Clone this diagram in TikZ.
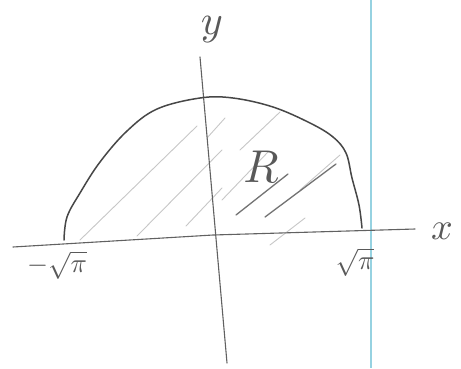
\documentclass[tikz,border=0pt]{standalone}
\begin{document}
\begin{tikzpicture}[x=1pt,y=-1pt,
  axisline/.style={line width=1.1pt, draw=black!62, line cap=round},
  curveline/.style={line width=1.5pt, draw=black!72, line cap=round},
  hatch/.style={line width=0.9pt, draw=black!22, line cap=round},
  darkhatch/.style={line width=1.3pt, draw=black!55, line cap=round},
  marginline/.style={line width=1.1pt, draw={rgb,255:red,150;green,210;blue,225}},
  lbl/.style={text=black!65, inner sep=0pt}]
\useasboundingbox (0,0) rectangle (461,368);
\fill[white] (0,0) rectangle (461,368);
% margin line of the paper
\coordinate (mt) at (371,0);
\coordinate (mb) at (371,368);
\draw[marginline] (mt) -- (mb);
% hatching
\coordinate (h1a) at (80,240);  \coordinate (h1b) at (197,126);
\coordinate (h2a) at (137,236); \coordinate (h2b) at (222,150);
\coordinate (h3a) at (186,226); \coordinate (h3b) at (222,188);
\coordinate (h4a) at (222,200); \coordinate (h4b) at (268,152);
\coordinate (h5a) at (207,138); \coordinate (h5b) at (225,118);
\coordinate (h6a) at (240,150); \coordinate (h6b) at (280,112);
\coordinate (h7a) at (270,245); \coordinate (h7b) at (305,218);
\coordinate (h8a) at (300,190); \coordinate (h8b) at (340,155);
\draw[hatch] (h1a) -- (h1b);
\draw[hatch] (h2a) -- (h2b);
\draw[hatch] (h3a) -- (h3b);
\draw[hatch] (h4a) -- (h4b);
\draw[hatch] (h5a) -- (h5b);
\draw[hatch] (h6a) -- (h6b);
\draw[hatch] (h7a) -- (h7b);
\draw[hatch] (h8a) -- (h8b);
\coordinate (d1a) at (236,215); \coordinate (d1b) at (288,174);
\coordinate (d2a) at (265,217); \coordinate (d2b) at (336,164);
\draw[darkhatch] (d1a) -- (d1b);
\draw[darkhatch] (d2a) -- (d2b);
% axes
\coordinate (xl) at (13,247);
\coordinate (xm) at (213,235);
\coordinate (xr) at (415,229);
\coordinate (yt) at (200,57);
\coordinate (yb) at (227,363);
\draw[axisline] (xl) -- (xm) -- (xr);
\draw[axisline] (yt) -- (yb);
% boundary curve
\draw[curveline] plot[smooth, tension=0.6] coordinates {
  (64,240) (67,217) (80,193) (100,162) (127,131) (157,109) (200,98)
  (233,98) (273,107) (310,123) (333,137) (346,153) (352,178)
  (359,205) (362,228)};
% labels
\node[lbl, scale=4.2] (ylab) at (212,30) {$y$};
\node[lbl, scale=3.8] (xlab) at (442,231) {$x$};
\node[lbl, scale=4.6] (rlab) at (261,167) {$R$};
\node[lbl, scale=2.7] (mlab) at (57,265) {$-\sqrt{\pi}$};
\node[lbl, scale=2.7] (plab) at (355,262) {$\sqrt{\pi}$};
\end{tikzpicture}
\end{document}
